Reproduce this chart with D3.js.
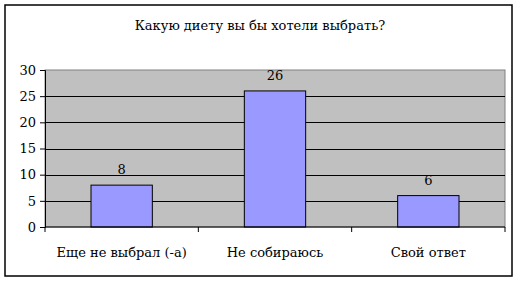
<!DOCTYPE html>
<html>
<head>
<meta charset="utf-8">
<script src="https://cdn.jsdelivr.net/npm/d3@7"></script>
<style>
  body { margin: 0; background: #fff; }
</style>
</head>
<body>
<svg width="521" height="282"></svg>
<script>
// данные диаграммы
var categories = ["Еще не выбрал (-а)", "Не собираюсь", "Свой ответ"];
var values = [8, 26, 6];
var yTicks = [0, 5, 10, 15, 20, 25, 30];
var title = "Какую диету вы бы хотели выбрать?";

// Liberation Serif не находится, DejaVu Serif работает
var FONT = "DejaVu Serif, serif";

var svg = d3.select("svg"),
    margin = { top: 70, right: 16, bottom: 55, left: 45 },
    width = +svg.attr("width") - margin.left - margin.right,
    height = +svg.attr("height") - margin.top - margin.bottom;

// рамка вокруг всей диаграммы
svg.append("rect")
    .attr("x", 5).attr("y", 5)
    .attr("width", 507).attr("height", 271)
    .attr("fill", "#fff")
    .attr("stroke", "#000")
    .attr("stroke-width", 1.5);

svg.append("text")
    .attr("x", 260)
    .attr("y", 30)
    .attr("text-anchor", "middle")
    .attr("font-family", FONT)
    .attr("font-size", 13)
    .text(title);

var x = d3.scaleBand().domain(categories).range([0, width]).paddingInner(0.6).paddingOuter(0.3),
    xTick = d3.scaleBand().domain(categories).range([0, width]),
    y = d3.scaleLinear().domain([0, 30]).range([height, 0]);

var g = svg.append("g")
    .attr("transform", "translate(" + margin.left + "," + margin.top + ")");

// серый фон области построения
g.append("rect")
    .attr("width", width)
    .attr("height", height)
    .attr("fill", "#c0c0c0")
    .attr("stroke", "#808080");

// линии сетки
g.selectAll(".grid")
    .data(yTicks.filter(function (d) { return d > 0 && d < 30; }))
    .enter().append("line")
    .attr("class", "grid")
    .attr("x1", 0).attr("x2", width)
    .attr("y1", function (d) { return Math.round(y(d)) + 0.5; })
    .attr("y2", function (d) { return Math.round(y(d)) + 0.5; })
    .attr("stroke", "#000");

g.selectAll(".bar")
    .data(values)
    .enter().append("rect")
    .attr("class", "bar")
    .attr("x", function (d, i) { return x(categories[i]); })
    .attr("y", function (d) { return y(d); })
    .attr("width", x.bandwidth())
    .attr("height", function (d) { return height - y(d); })
    .attr("fill", "#9999ff")
    .attr("stroke", "#000");

g.selectAll(".val")
    .data(values)
    .enter().append("text")
    .attr("class", "val")
    .attr("x", function (d, i) { return x(categories[i]) + x.bandwidth() / 2; })
    .attr("y", function (d) { return y(d) - 11; })
    .attr("text-anchor", "middle")
    .attr("font-family", FONT)
    .attr("font-size", 13)
    .text(function (d) { return d; });

// ось Y
var yAxis = g.append("g")
    .call(d3.axisLeft(y).tickValues(yTicks).tickSize(5).tickPadding(4));
yAxis.attr("font-family", FONT).attr("font-size", 13);
yAxis.selectAll("text").attr("fill", "#000");
yAxis.select(".domain").attr("stroke", "#000");

// ось X с засечками между категориями
var xAxis = g.append("g")
    .attr("transform", "translate(0," + height + ")");
xAxis.append("line")
    .attr("x1", 0).attr("x2", width)
    .attr("stroke", "#000");
xAxis.selectAll(".xt")
    .data([0].concat(categories.map(function (c) { return xTick(c) + xTick.bandwidth(); })))
    .enter().append("line")
    .attr("x1", function (d) { return d; })
    .attr("x2", function (d) { return d; })
    .attr("y1", 0).attr("y2", 5)
    .attr("stroke", "#000");
xAxis.selectAll(".xl")
    .data(categories)
    .enter().append("text")
    .attr("x", function (d) { return xTick(d) + xTick.bandwidth() / 2; })
    .attr("y", 30)
    .attr("text-anchor", "middle")
    .attr("font-family", FONT)
    .attr("font-size", 13)
    .text(function (d) { return d; });
</script>
</body>
</html>
